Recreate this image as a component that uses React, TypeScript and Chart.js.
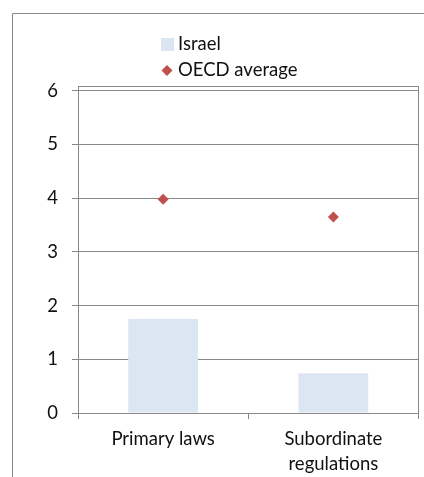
import { useEffect, useRef } from "react";
import { Chart, registerables } from "chart.js";

Chart.register(...registerables);

const categories: (string | string[])[] = ["Primary laws", ["Subordinate", "regulations"]];
const israelValues = [1.75, 0.74];
const oecdValues = [3.98, 3.65];
const yTicks = [0, 1, 2, 3, 4, 5, 6];
const seriesLabels = ["Israel", "OECD average"];

const FONT = "Lato, 'Liberation Sans', sans-serif";
const FS = 18.5;
const GRID = "#888888";
const BAR = "#dce6f2";
const DIAMOND = "#c0504d";

const framePlugin = {
  id: "framePlugin",
  beforeDraw(chart: any) {
    const ctx = chart.ctx;
    ctx.save();
    ctx.strokeStyle = GRID;
    ctx.lineWidth = 1;
    ctx.beginPath();
    ctx.moveTo(12.5, chart.height);
    ctx.lineTo(12.5, 13.5);
    ctx.lineTo(chart.width, 13.5);
    ctx.stroke();
    ctx.restore();
  },
  afterDraw(chart: any) {
    const ctx = chart.ctx;
    const a = chart.chartArea;
    ctx.save();
    ctx.strokeStyle = GRID;
    ctx.lineWidth = 1;
    ctx.beginPath();
    ctx.moveTo(Math.round(a.left) + 0.5, Math.round(a.top) + 0.5);
    ctx.lineTo(Math.round(a.right) - 0.5, Math.round(a.top) + 0.5);
    ctx.lineTo(Math.round(a.right) - 0.5, Math.round(a.bottom));
    ctx.stroke();

    // legend
    ctx.font = `${FS}px ${FONT}`;
    ctx.textBaseline = "middle";
    ctx.textAlign = "left";
    ctx.fillStyle = BAR;
    ctx.fillRect(161, 38, 13, 13);
    ctx.fillStyle = "#111";
    ctx.fillText(seriesLabels[0], 178, 44.5);
    ctx.fillStyle = DIAMOND;
    ctx.beginPath();
    const cx = 167, cy = 70.5, r = 5.5;
    ctx.moveTo(cx - r, cy);
    ctx.lineTo(cx, cy - r);
    ctx.lineTo(cx + r, cy);
    ctx.lineTo(cx, cy + r);
    ctx.closePath();
    ctx.fill();
    ctx.fillStyle = "#111";
    ctx.fillText(seriesLabels[1], 178, 70.5);
    ctx.restore();
  },
};

export default function App() {
  const ref = useRef<HTMLCanvasElement | null>(null);

  useEffect(() => {
    if (!ref.current) return;
    const chart = new Chart(ref.current, {
      type: "bar",
      data: {
        labels: categories as any,
        datasets: [
          {
            type: "bar",
            label: seriesLabels[0],
            data: israelValues,
            backgroundColor: BAR,
            borderWidth: 0,
            categoryPercentage: 1,
            barPercentage: 0.41,
            order: 2,
          },
          {
            type: "line",
            label: seriesLabels[1],
            data: oecdValues,
            showLine: false,
            pointStyle: "rectRot",
            pointRadius: 5.5,
            pointHoverRadius: 5.5,
            backgroundColor: DIAMOND,
            borderColor: DIAMOND,
            borderWidth: 0,
            order: 1,
          } as any,
        ],
      },
      options: {
        responsive: false,
        animation: false,
        devicePixelRatio: 1,
        layout: { padding: { top: 86, right: 2, left: 0, bottom: 0 } },
        plugins: {
          legend: { display: false },
          tooltip: { enabled: false },
        },
        scales: {
          x: {
            offset: true,
            grid: {
              display: true,
              drawOnChartArea: false,
              offset: true,
              tickLength: 6,
              color: GRID,
            },
            border: { display: true, color: GRID },
            ticks: {
              color: "#111",
              font: { family: FONT, size: FS, lineHeight: 25 / FS },
              padding: 8,
              maxRotation: 0,
              autoSkip: false,
            },
            afterFit: (s: any) => {
              s.height = 64;
            },
          },
          y: {
            min: 0,
            max: 6.09,
            ticks: {
              stepSize: 1,
              includeBounds: false,
              color: "#111",
              font: { family: FONT, size: FS },
              padding: 14,
            },
            afterBuildTicks: (s: any) => {
              s.ticks = yTicks.map((v) => ({ value: v }));
            },
            grid: { color: GRID, tickLength: 6, drawTicks: true },
            border: { display: true, color: GRID },
            afterFit: (s: any) => {
              s.width = 78;
            },
          },
        },
      },
      plugins: [framePlugin],
    });
    return () => chart.destroy();
  }, []);

  return (
    <div style={{ position: "fixed", left: 0, top: 0, width: 424, height: 477, overflow: "hidden", background: "#fff" }}>
      <canvas ref={ref} width={424} height={477} style={{ display: "block" }} />
    </div>
  );
}
